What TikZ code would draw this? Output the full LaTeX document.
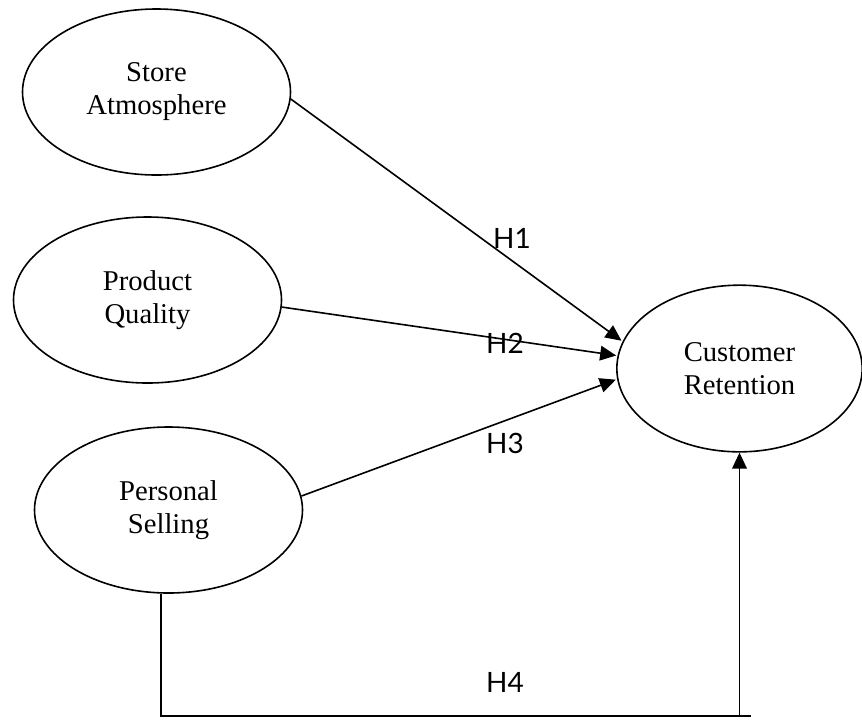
\documentclass[tikz,border=0pt]{standalone}
\usepackage{fontspec}
\setmainfont{Liberation Serif}
\newfontfamily\hfont{Lato}
\usetikzlibrary{shapes.geometric,arrows.meta}
\begin{document}
\begin{tikzpicture}[x=0.75pt,y=-0.75pt,
    var/.style={draw,ellipse,line width=1.2pt,inner sep=0pt,align=center,minimum width=201pt,minimum height=124.5pt,font=\fontsize{21.5}{24.75}\selectfont},
    hyp/.style={font=\hfont\fontsize{21}{25}\selectfont},
    link/.style={line width=1.2pt,-{Triangle[length=12pt,width=11pt]}}]
    \useasboundingbox (0,0) rectangle (862,719);
    \node[var] (sa) at (156.5,92) {Store\\Atmosphere};
    \node[var] (pq) at (147.5,300) {Product\\Quality};
    \node[var] (ps) at (168.5,510) {Personal\\Selling};
    \node[var,minimum width=184pt,minimum height=125pt] (cr) at (739.5,368.5) {Customer\\Retention};
    \draw[link,shorten >=1pt] (sa.-3) -- (cr.167) node[hyp] (h1) at (512,238) {H1};
    \draw[link,shorten >=1pt] (pq.-3) -- (cr.174.7) node[hyp] (h2) at (505,343) {H2};
    \draw[link,shorten >=1pt] (ps.6) -- (cr.185.3) node[hyp] (h3) at (505,443) {H3};
    \coordinate (h4end) at (751,716);
    \coordinate (h4base) at (cr.south |- h4end);
    \draw[line width=1.2pt] (ps.-95) |- (h4end);
    \draw[link] (h4base) -- (cr.south) node[hyp] (h4) at (505,682) {H4};
\end{tikzpicture}
\end{document}
